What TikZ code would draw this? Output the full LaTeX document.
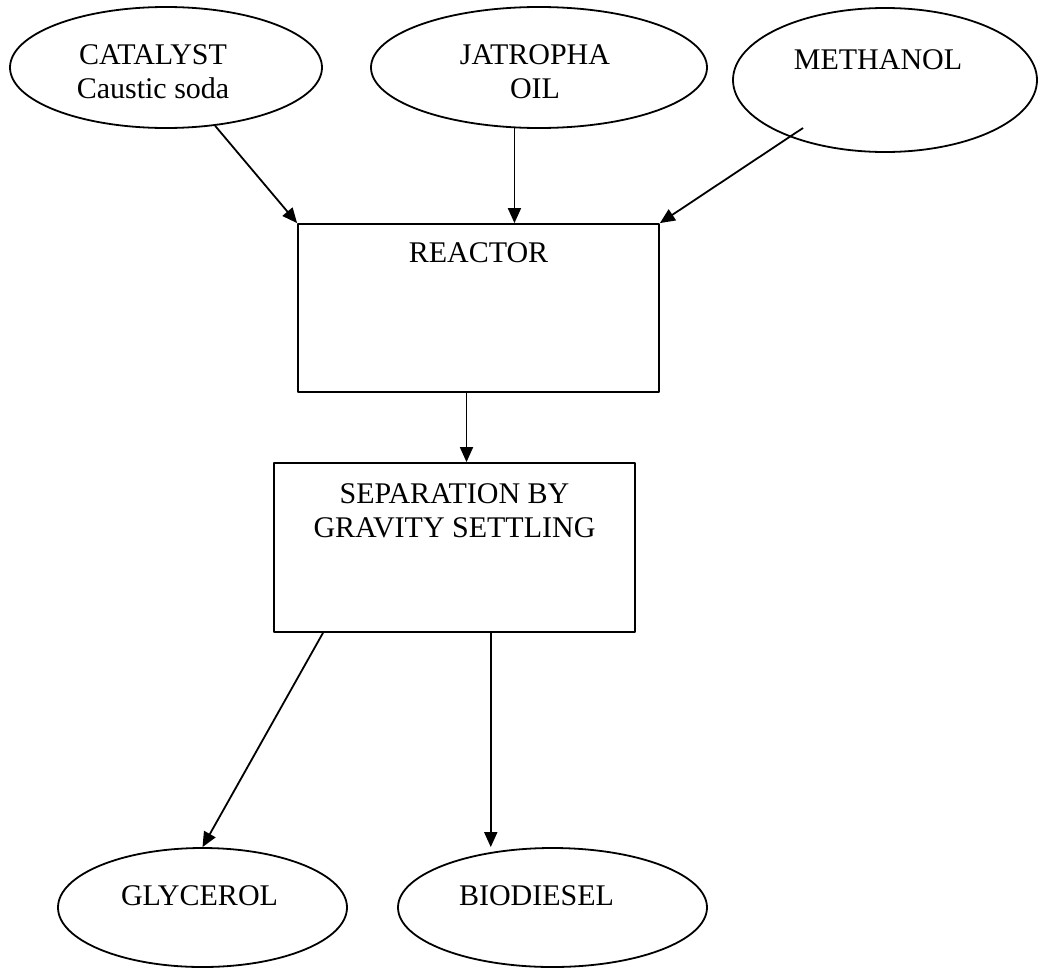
\documentclass[tikz,border=0pt]{standalone}
\usepackage{fontspec}
\setmainfont{Liberation Serif}
\usetikzlibrary{shapes.geometric,arrows.meta,calc}

\begin{document}
\begin{tikzpicture}[x=0.5pt,y=-0.5pt,line width=0.9pt,line join=round,
  font=\fontsize{15}{17}\selectfont,>={Triangle[length=7.5pt,width=6.5pt]},
  feed/.style={draw,ellipse,inner sep=0pt},
  unit/.style={draw,rectangle,inner sep=0pt,minimum width=180.5pt},
  txt/.style={align=center,inner sep=0pt}]
\useasboundingbox (0,0) rectangle (1038,969);
% feeds
\node[feed,minimum width=156pt,minimum height=60.5pt,
  label={[txt,xshift=-6.5pt,yshift=-2.25pt]center:CATALYST\\Caustic soda}] (cat) at (166,67.5) {};
\node[feed,minimum width=168pt,minimum height=60.5pt,
  label={[txt,xshift=-2pt,yshift=-2.25pt]center:JATROPHA\\OIL}] (jat) at (539,67.5) {};
\node[feed,minimum width=152pt,minimum height=72pt,
  label={[txt,xshift=-3.5pt,yshift=10pt]center:METHANOL}] (meth) at (885,80) {};
\coordinate (methout) at (803,128);
% process units
\node[unit,minimum height=84pt,
  label={[txt,yshift=27.5pt]center:REACTOR}] (reactor) at (478.5,308) {};
\node[unit,minimum height=84.5pt,
  label={[txt,yshift=18.5pt]center:SEPARATION BY\\GRAVITY SETTLING}] (sep) at (454.5,547.5) {};
% products
\node[feed,minimum width=144.5pt,minimum height=59.5pt,
  label={[txt,xshift=-1.5pt,yshift=6pt]center:GLYCEROL}] (gly) at (202.5,907.5) {};
\node[feed,minimum width=154.5pt,minimum height=59.5pt,
  label={[txt,xshift=-8pt,yshift=6pt]center:BIODIESEL}] (bio) at (552.5,907.5) {};
% flows
\draw[->] (cat) -- (reactor.north west);
\draw[->] (jat.-112) -- (jat.-112 |- reactor.north);
\draw[->] (methout) -- (reactor.north east);
\path ($(reactor.south)!.5!(sep.north)$) coordinate (m);
\draw[->] (m |- reactor.south) -- (m |- sep.north);
\draw[->] (sep.-147.5) -- (gly.north);
\draw[->] (sep.-67.2) -- (sep.-67.2 |- bio.north);
\end{tikzpicture}
\end{document}
